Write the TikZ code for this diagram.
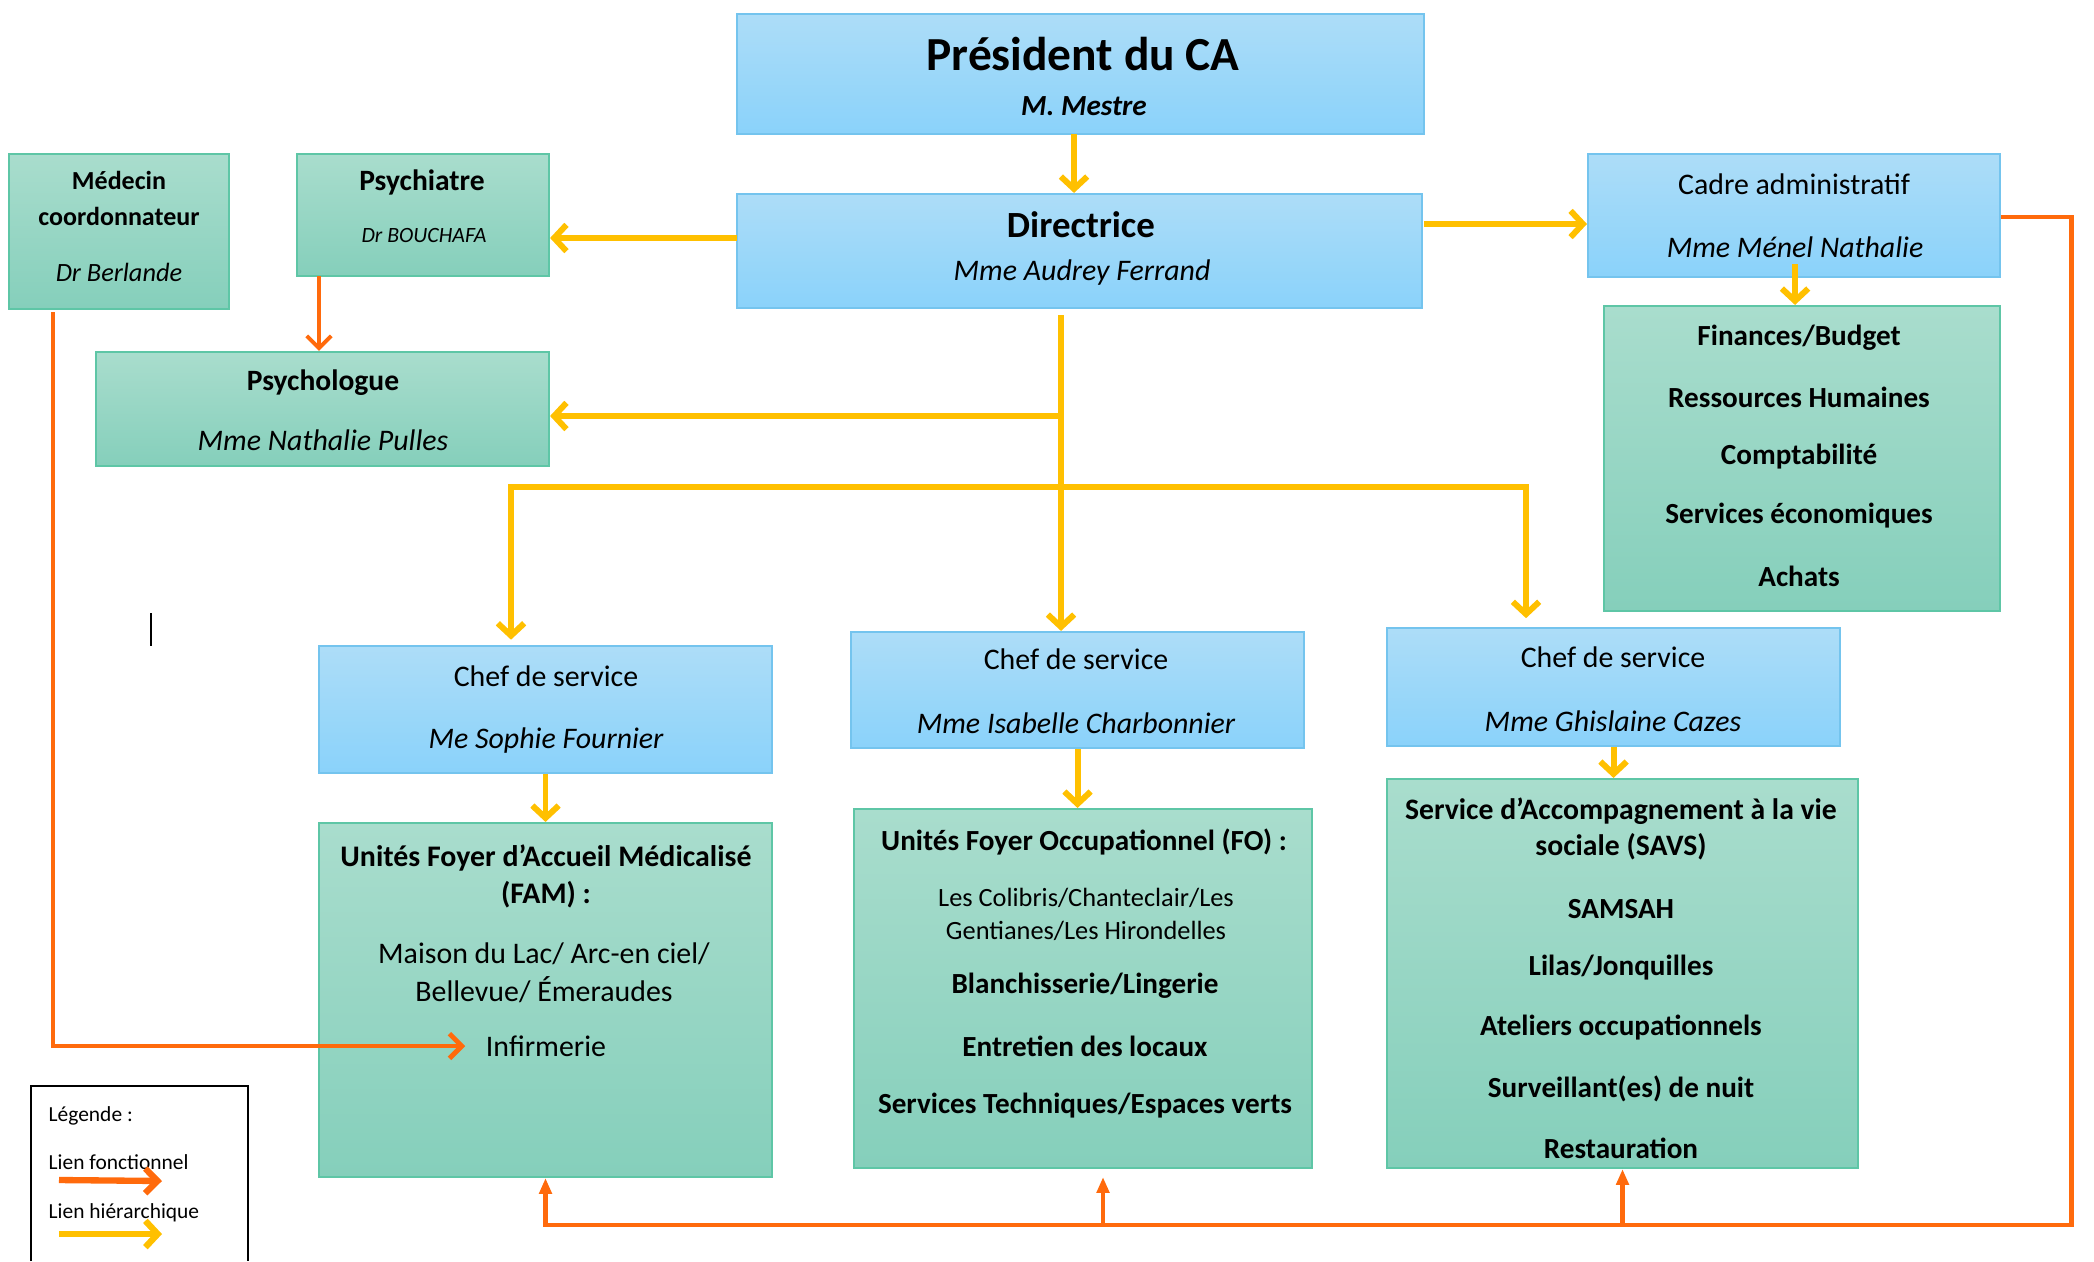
\documentclass[tikz,border=0pt]{standalone}
\usepackage{fontspec}
\setmainfont{Carlito}
\usetikzlibrary{arrows.meta,positioning}
\definecolor{bluetop}{HTML}{ADDDF8}
\definecolor{bluebot}{HTML}{8AD2FA}
\definecolor{blueline}{HTML}{74C4EE}
\definecolor{greentop}{HTML}{A9DDCD}
\definecolor{greenbot}{HTML}{85CFBB}
\definecolor{greenline}{HTML}{5EC6A6}
\definecolor{yel}{HTML}{FFC000}
\definecolor{ora}{HTML}{FF6A0C}

\begin{document}
\begin{tikzpicture}[
  bluebox/.style={draw=blueline, line width=0.6pt, top color=bluetop, bottom color=bluebot, inner sep=0pt},
  greenbox/.style={draw=greenline, line width=0.6pt, top color=greentop, bottom color=greenbot, inner sep=0pt},
  lbl/.style={inner sep=0pt, font=\fontsize{8.5}{10}\selectfont},
  bl/.style={inner sep=0pt, font=\fontsize{8.5}{10}\selectfont\bfseries},
  it/.style={inner sep=0pt, font=\fontsize{8.5}{10}\selectfont\itshape},
  yarrow/.style={draw=yel, line width=1.7pt, -{Straight Barb[length=3.5pt,width=7.5pt]}},
  yboth/.style={draw=yel, line width=1.7pt, line join=miter, {Straight Barb[length=3.5pt,width=7.5pt]}-{Straight Barb[length=3.5pt,width=7.5pt]}},
  oarrow/.style={draw=ora, line width=1.4pt, -{Straight Barb[length=3.5pt,width=7pt]}},
  oup/.style={draw=ora, line width=1.4pt, -{Triangle[length=4.5pt,width=3.5pt]}}
]
\useasboundingbox (0,0) rectangle (20.94,-12.61);

\node[bluebox, minimum width=6.87cm, minimum height=1.20cm] (pres) at (10.805,-0.74) {};
\node[bluebox, minimum width=6.85cm, minimum height=1.14cm] (dir) at (10.795,-2.51) {};
\node[greenbox, minimum width=2.20cm, minimum height=1.55cm] (med) at (1.19,-2.315) {};
\node[greenbox, minimum width=2.52cm, minimum height=1.22cm] (psy) at (4.23,-2.15) {};
\node[greenbox, minimum width=4.53cm, minimum height=1.14cm] (psyg) at (3.225,-4.09) {};
\node[bluebox, minimum width=4.12cm, minimum height=1.23cm] (cadre) at (17.94,-2.155) {};
\node[greenbox, minimum width=3.96cm, minimum height=3.05cm] (fin) at (18.02,-4.585) {};
\node[bluebox, minimum width=4.53cm, minimum height=1.27cm] (chefA) at (5.455,-7.095) {};
\node[bluebox, minimum width=4.53cm, minimum height=1.16cm] (chefB) at (10.775,-6.90) {};
\node[bluebox, minimum width=4.53cm, minimum height=1.18cm] (chefC) at (16.135,-6.87) {};
\node[greenbox, minimum width=4.53cm, minimum height=3.54cm] (fam) at (5.455,-10.00) {};
\node[greenbox, minimum width=4.58cm, minimum height=3.59cm] (fo) at (10.83,-9.885) {};
\node[greenbox, minimum width=4.71cm, minimum height=3.89cm] (savs) at (16.225,-9.735) {};

\node[bl, font=\fontsize{13.5}{15}\selectfont\bfseries] (presT) at (10.83,-0.54) {Président du CA};
\node[it, font=\fontsize{8.3}{10}\selectfont\bfseries\itshape] (presN) at (10.84,-1.06) {M. Mestre};
\node[bl, font=\fontsize{10.5}{12}\selectfont\bfseries] (dirT) at (10.81,-2.25) {Directrice};
\node[it] (dirN) at (10.82,-2.73) {Mme Audrey Ferrand};
\node[bl, font=\fontsize{7.4}{9}\selectfont\bfseries] (medT) at (1.19,-1.80) {Médecin};
\node[bl, font=\fontsize{7.4}{9}\selectfont\bfseries] (medT2) at (1.19,-2.16) {coordonnateur};
\node[it, font=\fontsize{7.5}{9}\selectfont\itshape] (medN) at (1.19,-2.72) {Dr Berlande};
\node[bl, font=\fontsize{8.4}{10}\selectfont\bfseries] (psyT) at (4.22,-1.82) {Psychiatre};
\node[it, font=\fontsize{6.2}{8}\selectfont\itshape] (psyN) at (4.24,-2.36) {Dr BOUCHAFA};
\node[bl, font=\fontsize{8.4}{10}\selectfont\bfseries] (psygT) at (3.23,-3.83) {Psychologue};
\node[it] (psygN) at (3.23,-4.40) {Mme Nathalie Pulles};
\node[lbl] (cadreT) at (17.94,-1.84) {Cadre administratif};
\node[it] (cadreN) at (17.95,-2.47) {Mme Ménel Nathalie};
\node[bl, font=\fontsize{8.3}{10}\selectfont\bfseries] (fin1) at (17.99,-3.38) {Finances/Budget};
\node[bl, font=\fontsize{8.3}{10}\selectfont\bfseries] (fin2) at (17.99,-3.97) {Ressources Humaines};
\node[bl, font=\fontsize{8.3}{10}\selectfont\bfseries] (fin3) at (17.99,-4.57) {Comptabilité};
\node[bl, font=\fontsize{8.3}{10}\selectfont\bfseries] (fin4) at (17.99,-5.16) {Services économiques};
\node[bl, font=\fontsize{8.3}{10}\selectfont\bfseries] (fin5) at (17.99,-5.76) {Achats};
\node[lbl] (chefAT) at (5.46,-6.76) {Chef de service};
\node[it] (chefAN) at (5.46,-7.41) {Me Sophie Fournier};
\node[lbl] (chefBT) at (10.76,-6.59) {Chef de service};
\node[it] (chefBN) at (10.76,-7.23) {Mme Isabelle Charbonnier};
\node[lbl] (chefCT) at (16.13,-6.57) {Chef de service};
\node[it] (chefCN) at (16.13,-7.21) {Mme Ghislaine Cazes};
\node[bl] (famT) at (5.46,-8.58) {Unités Foyer d’Accueil Médicalisé};
\node[bl] (famT2) at (5.46,-8.95) {(FAM) :};
\node[lbl] (fam1) at (5.44,-9.54) {Maison du Lac/ Arc-en ciel/};
\node[lbl] (fam2) at (5.44,-9.90) {Bellevue/ Émeraudes};
\node[lbl] (inf) at (5.46,-10.46) {Infirmerie};
\node[bl, font=\fontsize{8.3}{10}\selectfont\bfseries] (foT) at (10.84,-8.42) {Unités Foyer Occupationnel (FO) :};
\node[lbl, font=\fontsize{7.5}{9}\selectfont] (fo1) at (10.86,-8.98) {Les Colibris/Chanteclair/Les};
\node[lbl, font=\fontsize{7.5}{9}\selectfont] (fo2) at (10.86,-9.31) {Gentianes/Les Hirondelles};
\node[bl, font=\fontsize{8.3}{10}\selectfont\bfseries] (fo3) at (10.85,-9.86) {Blanchisserie/Lingerie};
\node[bl, font=\fontsize{8.3}{10}\selectfont\bfseries] (fo4) at (10.85,-10.46) {Entretien des locaux};
\node[bl, font=\fontsize{8.3}{10}\selectfont\bfseries] (fo5) at (10.85,-11.06) {Services Techniques/Espaces verts};
\node[bl, font=\fontsize{8.45}{10}\selectfont\bfseries] (savsT) at (16.21,-8.11) {Service d’Accompagnement à la vie};
\node[bl, font=\fontsize{8.45}{10}\selectfont\bfseries] (savsT2) at (16.21,-8.47) {sociale (SAVS)};
\node[bl, font=\fontsize{8.3}{10}\selectfont\bfseries] (savs1) at (16.21,-9.09) {SAMSAH};
\node[bl, font=\fontsize{8.3}{10}\selectfont\bfseries] (savs2) at (16.21,-9.68) {Lilas/Jonquilles};
\node[bl, font=\fontsize{8.3}{10}\selectfont\bfseries] (savs3) at (16.21,-10.28) {Ateliers occupationnels};
\node[bl, font=\fontsize{8.3}{10}\selectfont\bfseries] (savs4) at (16.21,-10.89) {Surveillant(es) de nuit};
\node[bl, font=\fontsize{8.3}{10}\selectfont\bfseries] (savs5) at (16.21,-11.48) {Restauration};

\coordinate (t1) at (10.74,-1.34);
\coordinate (d1) at (7.37,-2.38);
\coordinate (d2) at (14.24,-2.24);
\coordinate (c1) at (17.95,-2.64);
\coordinate (d3) at (10.61,-3.15);
\coordinate (d4) at (10.61,-4.16);
\coordinate (d5) at (5.11,-4.87);
\coordinate (d6) at (15.26,-4.87);
\coordinate (p1) at (3.19,-2.76);
\coordinate (m1) at (0.53,-3.12);
\coordinate (r1) at (20.71,-2.17);
\coordinate (r2) at (20.71,-12.25);
\coordinate (f1) at (11.03,-12.25);

\draw[yarrow] (t1) -- (t1 |- dir.north);
\draw[yarrow] (d1) -- (d1 -| psy.east);
\draw[yarrow] (d2) -- (d2 -| cadre.west);
\draw[yarrow] (c1) -- (c1 |- fin.north);
\draw[yarrow] (d3) -- (d3 |- chefB.north);
\draw[yarrow] (d4) -- (d4 -| psyg.east);
\draw[yboth, shorten >=2.5pt, shorten <=1.5pt] (d5 |- chefA.north) |- (d6) -- (d6 |- chefC.north);
\draw[yarrow] (chefA.south) -- (chefA.south |- fam.north);
\draw[yarrow] (chefB.south) -- (chefB.south |- fo.north);
\draw[yarrow] (chefC.south) -- (chefC.south |- savs.north);

\draw[oarrow, line width=1.1pt] (p1) -- (p1 |- psyg.north);
\draw[oarrow] (m1) |- (inf.west) [shorten >=0.2cm];
\draw[oup] (cadre.east |- r1) -- (r1) -- (r2) -| (fam.south);
\draw[oup, shorten >=0.08cm] (f1) -- (f1 |- fo.south);
\draw[oup] (savs.south |- r2) -- (savs.south);

\draw[line width=0.8pt] (1.51,-6.13) -- (1.51,-6.46);

\draw[line width=0.5pt] (0.31,-12.61) |- (2.48,-10.86) -- (2.48,-12.61);
\node[lbl, anchor=west, font=\fontsize{6.1}{7}\selectfont] (leg) at (0.48,-11.16) {Légende :};
\node[lbl, anchor=west, font=\fontsize{6.1}{7}\selectfont] (leg1) at (0.48,-11.62) {Lien fonctionnel};
\node[lbl, anchor=west, font=\fontsize{6.1}{7}\selectfont] (leg2) at (0.48,-12.13) {Lien hiérarchique};
\coordinate (l1) at (0.59,-11.80);
\coordinate (l2) at (1.62,-11.81);
\coordinate (l3) at (0.59,-12.34);
\coordinate (l4) at (1.62,-12.34);
\draw[oarrow, line width=1.8pt] (l1) -- (l2);
\draw[yarrow, line width=1.8pt] (l3) -- (l4);
\end{tikzpicture}
\end{document}
